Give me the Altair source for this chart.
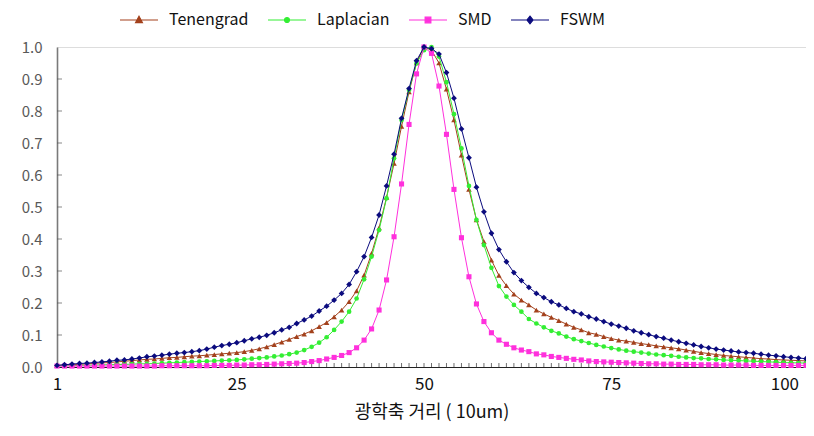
import altair as alt
import pandas as pd

# ---------------- data ----------------
x_vals = list(range(1, 102))

tenengrad = [
    0.005, 0.006, 0.007, 0.008, 0.010, 0.011, 0.013, 0.014, 0.016, 0.018,
    0.020, 0.022, 0.024, 0.025, 0.027, 0.029, 0.030, 0.032, 0.034, 0.035,
    0.037, 0.039, 0.041, 0.043, 0.045, 0.048, 0.052, 0.057, 0.063, 0.070,
    0.078, 0.086, 0.095, 0.103, 0.113, 0.126, 0.139, 0.157, 0.178, 0.204,
    0.238, 0.287, 0.355, 0.435, 0.530, 0.636, 0.752, 0.860, 0.950, 1.000,
    0.990, 0.950, 0.868, 0.772, 0.662, 0.555, 0.460, 0.392, 0.334, 0.286,
    0.254, 0.228, 0.209, 0.194, 0.178, 0.166, 0.155, 0.145, 0.134, 0.124,
    0.116, 0.107, 0.102, 0.095, 0.089, 0.084, 0.081, 0.077, 0.073, 0.070,
    0.066, 0.063, 0.060, 0.057, 0.053, 0.049, 0.045, 0.042, 0.039, 0.036,
    0.034, 0.032, 0.030, 0.028, 0.026, 0.025, 0.023, 0.022, 0.021, 0.020, 0.019,
]

laplacian = [
    0.004, 0.004, 0.005, 0.005, 0.006, 0.006, 0.007, 0.007, 0.008, 0.008,
    0.009, 0.010, 0.010, 0.011, 0.012, 0.013, 0.014, 0.015, 0.016, 0.017,
    0.018, 0.019, 0.020, 0.021, 0.022, 0.024, 0.026, 0.028, 0.030, 0.033,
    0.036, 0.040, 0.045, 0.053, 0.063, 0.076, 0.093, 0.116, 0.142, 0.173,
    0.214, 0.274, 0.345, 0.428, 0.527, 0.652, 0.772, 0.866, 0.949, 0.990,
    1.000, 0.970, 0.890, 0.790, 0.683, 0.566, 0.460, 0.381, 0.310, 0.253,
    0.220, 0.194, 0.173, 0.150, 0.136, 0.124, 0.113, 0.105, 0.095, 0.087,
    0.081, 0.075, 0.069, 0.064, 0.059, 0.055, 0.051, 0.048, 0.045, 0.042,
    0.039, 0.037, 0.035, 0.032, 0.030, 0.028, 0.027, 0.025, 0.024, 0.022,
    0.021, 0.020, 0.019, 0.018, 0.017, 0.016, 0.015, 0.014, 0.013, 0.013, 0.012,
]

smd = [
    0.003, 0.003, 0.003, 0.003, 0.003, 0.003, 0.003, 0.003, 0.003, 0.003,
    0.003, 0.003, 0.003, 0.003, 0.004, 0.004, 0.004, 0.004, 0.004, 0.004,
    0.004, 0.005, 0.005, 0.005, 0.006, 0.006, 0.007, 0.007, 0.008, 0.009,
    0.010, 0.011, 0.012, 0.014, 0.017, 0.020, 0.025, 0.030, 0.036, 0.045,
    0.060, 0.084, 0.119, 0.178, 0.272, 0.407, 0.572, 0.758, 0.916, 1.000,
    0.980, 0.878, 0.727, 0.555, 0.404, 0.282, 0.197, 0.142, 0.107, 0.084,
    0.071, 0.060, 0.053, 0.048, 0.041, 0.038, 0.033, 0.030, 0.027, 0.024,
    0.022, 0.019, 0.017, 0.016, 0.015, 0.014, 0.013, 0.012, 0.011, 0.010,
    0.010, 0.009, 0.009, 0.008, 0.008, 0.008, 0.007, 0.007, 0.007, 0.006,
    0.006, 0.006, 0.006, 0.005, 0.005, 0.005, 0.005, 0.005, 0.005, 0.005, 0.005,
]

fswm = [
    0.005, 0.007, 0.009, 0.011, 0.012, 0.014, 0.016, 0.018, 0.021, 0.022,
    0.025, 0.028, 0.032, 0.034, 0.037, 0.040, 0.043, 0.045, 0.048, 0.051,
    0.056, 0.062, 0.067, 0.071, 0.076, 0.082, 0.088, 0.093, 0.099, 0.107,
    0.116, 0.124, 0.136, 0.147, 0.159, 0.175, 0.190, 0.209, 0.230, 0.258,
    0.298, 0.345, 0.405, 0.475, 0.566, 0.665, 0.777, 0.870, 0.957, 1.000,
    0.995, 0.978, 0.920, 0.840, 0.744, 0.654, 0.562, 0.485, 0.418, 0.367,
    0.329, 0.295, 0.270, 0.249, 0.230, 0.217, 0.204, 0.194, 0.183, 0.173,
    0.166, 0.157, 0.150, 0.142, 0.134, 0.128, 0.121, 0.113, 0.107, 0.101,
    0.095, 0.090, 0.084, 0.079, 0.074, 0.069, 0.064, 0.060, 0.056, 0.053,
    0.050, 0.047, 0.045, 0.043, 0.040, 0.037, 0.035, 0.032, 0.030, 0.028, 0.026,
]

series_names = ["Tenengrad", "Laplacian", "SMD", "FSWM"]
series_colors = ["#A3411C", "#33EE33", "#FF30DC", "#0B0B7E"]
marker_shapes = ["triangle-up", "circle", "square", "diamond"]
marker_sizes = [30, 22, 26, 34]
legend_paths = [
    "M-1,0H1M0,-0.2L0.18,0.14L-0.18,0.14Z",
    "M-1,0H1M-0.13,0A0.13,0.13 0 1,0 0.13,0A0.13,0.13 0 1,0 -0.13,0Z",
    "M-1,0H1M-0.15,-0.15H0.15V0.15H-0.15Z",
    "M-1,0H1M0,-0.2L0.16,0L0,0.2L-0.16,0Z",
]
x_tick_labels = [1, 25, 50, 75, 100]
y_tick_values = [0.0, 0.1, 0.2, 0.3, 0.4, 0.5, 0.6, 0.7, 0.8, 0.9, 1.0]
x_title = "광학축 거리 ( 10um)"

series_values = [tenengrad, laplacian, smd, fswm]
rows = []
for name, vals in zip(series_names, series_values):
    for xv, yv in zip(x_vals, vals):
        rows.append({"pos": xv, "value": yv, "series": name})
df = pd.DataFrame(rows)

# tick-mark tables (x ticks sit on the baseline, y ticks on the left edge)
xtick_df = pd.DataFrame({"pos": x_vals, "value": [0.0] * len(x_vals)})
ytick_df = pd.DataFrame({"value": y_tick_values[1:-1], "pos": [1] * (len(y_tick_values) - 2)})

FONT = "Noto Sans CJK KR"
xscale = alt.Scale(domain=[1, 101], nice=False, zero=False)
yscale = alt.Scale(domain=[0, 1], nice=False, zero=True)

x_axis = alt.Axis(
    values=x_tick_labels, title=x_title, ticks=False, grid=False,
    labelFont=FONT, labelFontSize=17, labelColor="#111", labelPadding=9,
    labelAlign={"condition": {"test": "datum.value == 100", "value": "right"}, "value": "center"},
    labelBound=False,
    titleFont=FONT, titleFontSize=18, titleFontWeight="normal", titleColor="#111",
    titlePadding=11, domainColor="#222", domainWidth=1)
y_axis = alt.Axis(
    values=y_tick_values, format=".1f", title=None, ticks=False, grid=False,
    labelFont=FONT, labelFontSize=15, labelColor="#595959", labelPadding=15,
    domainColor="#7a7a7a", domainWidth=1.6)

def xe():
    return alt.X("pos:Q", scale=xscale, axis=x_axis, title=x_title)

def ye():
    return alt.Y("value:Q", scale=yscale, axis=y_axis, title=None)

layers = []

x_ticks = alt.Chart(xtick_df).mark_tick(
    orient="vertical", size=4, thickness=1, color="#333", yOffset=-2
).encode(x=xe(), y=ye())
layers.append(x_ticks)

y_ticks = alt.Chart(ytick_df).mark_tick(
    orient="horizontal", size=5, thickness=1, color="#555", xOffset=2.5
).encode(x=xe(), y=ye())
layers.append(y_ticks)

for name, col, shp, sz in zip(series_names, series_colors, marker_shapes, marker_sizes):
    sub = alt.Chart(df).transform_filter(alt.datum.series == name)
    line = sub.mark_line(color=col, strokeWidth=1).encode(x=xe(), y=ye())
    pts = sub.mark_point(shape=shp, color=col, filled=True, size=sz, opacity=1).encode(x=xe(), y=ye())
    layers.append(line)
    layers.append(pts)

legend_props = dict(
    title=None, orient="none", legendX=62, legendY=-47, direction="horizontal",
    columns=4, symbolSize=1444, symbolStrokeWidth=1.2, symbolOpacity=1,
    labelFont=FONT, labelFontSize=16, labelColor="#111", labelOffset=10,
    columnPadding=16, labelLimit=200,
)
legend_layer = alt.Chart(df).mark_point(filled=True, opacity=0).encode(
    x=xe(), y=ye(),
    fill=alt.Fill("series:N", scale=alt.Scale(domain=series_names, range=series_colors),
                  sort=series_names, legend=alt.Legend(**legend_props)),
    stroke=alt.Stroke("series:N", scale=alt.Scale(domain=series_names, range=series_colors),
                      sort=series_names, legend=alt.Legend(**legend_props)),
    shape=alt.Shape("series:N", scale=alt.Scale(domain=series_names, range=legend_paths),
                    sort=series_names, legend=alt.Legend(**legend_props)),
)
layers.append(legend_layer)

chart = alt.layer(*layers).properties(
    width=749, height=320,
    padding={"left": 49, "top": 39, "right": 0, "bottom": 60},
    autosize="none",
).configure_view(
    stroke="#8a8a8a", strokeWidth=1
).configure(background="white")

chart.save("out.html", embed_options={"renderer": "svg", "actions": False})
